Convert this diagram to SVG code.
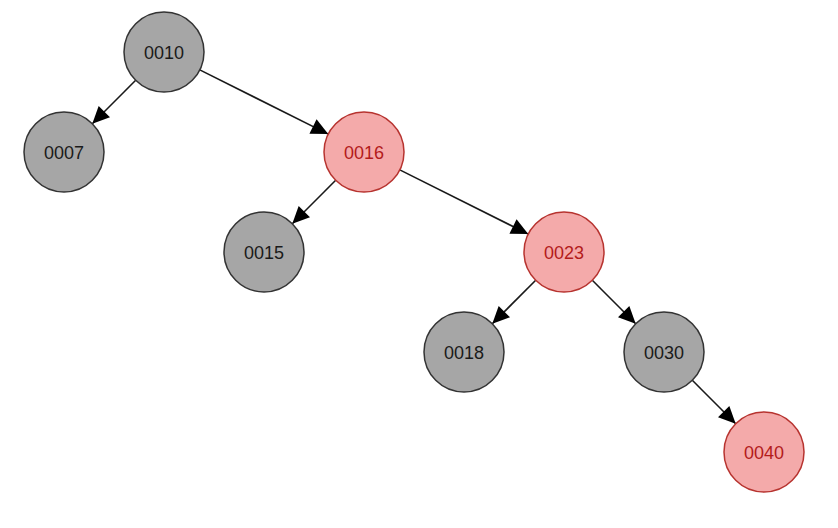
<svg xmlns="http://www.w3.org/2000/svg" width="838" height="528" viewBox="0 0 838 528">
<style>
.b circle{fill:#a6a6a6;stroke:#333333;stroke-width:1.5}
.r circle{fill:#f4aaaa;stroke:#b7332f;stroke-width:1.5}
text{font-family:"Liberation Sans",Arial,sans-serif;font-size:18px;text-anchor:middle}
.b text{fill:#1a1a1a}
.r text{fill:#b31b1b}
.e line{stroke:#1a1a1a;stroke-width:1.6;fill:none}
</style>
<defs>
<marker id="ah" markerUnits="userSpaceOnUse" markerWidth="22" markerHeight="22" viewBox="0 0 22 22" refX="20" refY="11" orient="auto">
<path d="M3,3 L20,11 L3,19 Z" fill="#000"/>
</marker>
</defs>
<g id="edges" class="e">
<line x1="135.7" y1="80.3" x2="92.3" y2="123.7" marker-end="url(#ah)"/>
<line x1="199.8" y1="69.9" x2="328.2" y2="134.1" marker-end="url(#ah)"/>
<line x1="335.7" y1="180.3" x2="292.3" y2="223.7" marker-end="url(#ah)"/>
<line x1="399.8" y1="169.9" x2="528.2" y2="234.1" marker-end="url(#ah)"/>
<line x1="535.7" y1="280.3" x2="492.3" y2="323.7" marker-end="url(#ah)"/>
<line x1="592.3" y1="280.3" x2="635.7" y2="323.7" marker-end="url(#ah)"/>
<line x1="692.3" y1="380.3" x2="735.7" y2="423.7" marker-end="url(#ah)"/>
</g>
<g id="n0010" class="b"><circle cx="164" cy="52" r="40"/><text x="164" y="58.5">0010</text></g>
<g id="n0007" class="b"><circle cx="64" cy="152" r="40"/><text x="64" y="158.5">0007</text></g>
<g id="n0016" class="r"><circle cx="364" cy="152" r="40"/><text x="364" y="158.5">0016</text></g>
<g id="n0015" class="b"><circle cx="264" cy="252" r="40"/><text x="264" y="258.5">0015</text></g>
<g id="n0023" class="r"><circle cx="564" cy="252" r="40"/><text x="564" y="258.5">0023</text></g>
<g id="n0018" class="b"><circle cx="464" cy="352" r="40"/><text x="464" y="358.5">0018</text></g>
<g id="n0030" class="b"><circle cx="664" cy="352" r="40"/><text x="664" y="358.5">0030</text></g>
<g id="n0040" class="r"><circle cx="764" cy="452" r="40"/><text x="764" y="458.5">0040</text></g>
</svg>
